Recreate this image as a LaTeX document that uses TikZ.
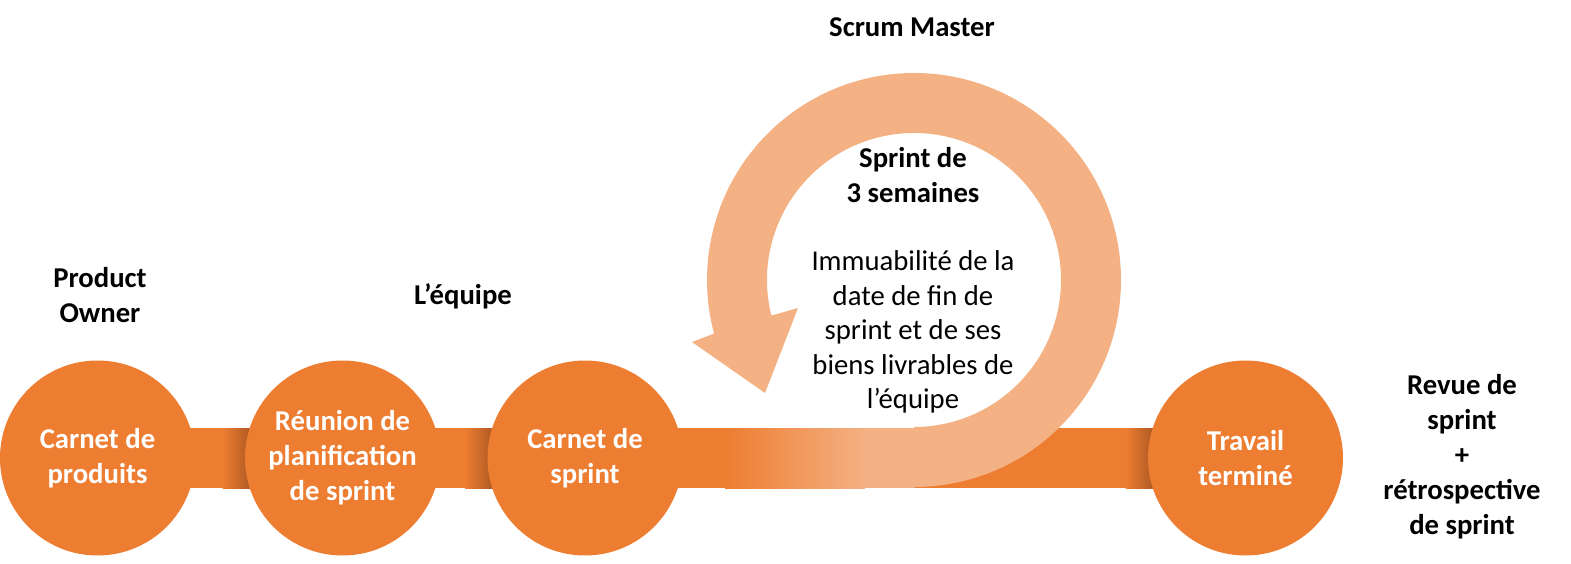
\documentclass[tikz,border=0pt]{standalone}
\usepackage{fontspec}
\setmainfont{Carlito}
\usepackage{tikz}
\usetikzlibrary{positioning,calc,backgrounds}

\definecolor{scrumorange}{HTML}{ED7D31}
\definecolor{scrumpeach}{HTML}{F4B183}
\definecolor{scrumdark}{RGB}{166,84,33}

\begin{document}
\begin{tikzpicture}[
    x=1pt, y=1pt,
    stage/.style={circle, fill=scrumorange, minimum size=195pt, inner sep=0pt, align=center, text=white, font=\fontsize{28.7}{35}\selectfont\bfseries},
    role/.style={align=center, font=\fontsize{28.7}{35}\selectfont\bfseries},
    note/.style={align=center, font=\fontsize{28.7}{34.5}\selectfont},
    bar/.style={fill=scrumorange}
]
\useasboundingbox (0,0) rectangle (1571,563);

% Stages
\node[stage] (pb) at (97.5,105) {Carnet de\\produits};
\node[stage] (rp) at (342.5,105) {Réunion de\\planification\\de sprint};
\node[stage] (sb) at (585,105) {Carnet de\\sprint};
\node[stage] (tw) at (1245.5,105) {Travail\\terminé};

% Roles
\node[role] (po) at (100,268) {Product\\Owner};
\node[role] (team) at (463,267) {L’équipe};
\node[role] (sm) at (912,536) {Scrum Master};
\node[role] (rev) at (1462,106) {Revue de\\sprint\\+\\rétrospective\\de sprint};

% Sprint loop
\coordinate (loop) at (914,283);
\node[role] (sprint) at (913,388) {Sprint de\\3 semaines};
\node[note] (fixed) at (913,231) {Immuabilité de la\\date de fin de\\sprint et de ses\\biens livrables de\\l’équipe};

\begin{scope}[on background layer]
% Bars between stages
\fill[bar] ($(pb.center)+(80,-30)$) rectangle ($(rp.center)+(-80,30)$);
\shade[left color=scrumorange, right color=scrumdark] ($(rp.center)+(-120,-30)$) rectangle ($(rp.center)+(-88,30)$);
\fill[bar] ($(rp.center)+(80,-30)$) rectangle ($(sb.center)+(-80,30)$);
\shade[left color=scrumorange, right color=scrumdark] ($(sb.center)+(-120,-30)$) rectangle ($(sb.center)+(-88,30)$);
\fill[bar] ($(sb.center)+(80,-30)$) rectangle ($(tw.center)+(-80,30)$);
\shade[left color=scrumorange, right color=scrumdark] ($(tw.center)+(-120,-30)$) rectangle ($(tw.center)+(-88,30)$);
\shade[left color=scrumorange, right color=scrumpeach] ($(sb.center)+(140,-30)$) rectangle ($(sb.center)+(280,30)$);
\fill[scrumpeach] ($(sb.center)+(279,-30)$) rectangle ($(loop|-sb.center)+(1,30)$);

% Loop arrow
\fill[scrumpeach] ($(loop)+(-90:207pt)$) arc[start angle=-90, end angle=195, radius=207pt]
    -- (692,221) -- (765,170) -- (798,255)
    -- ($(loop)+(194:147pt)$) arc[start angle=194, end angle=-90, radius=147pt] -- cycle;
\end{scope}

\end{tikzpicture}
\end{document}
